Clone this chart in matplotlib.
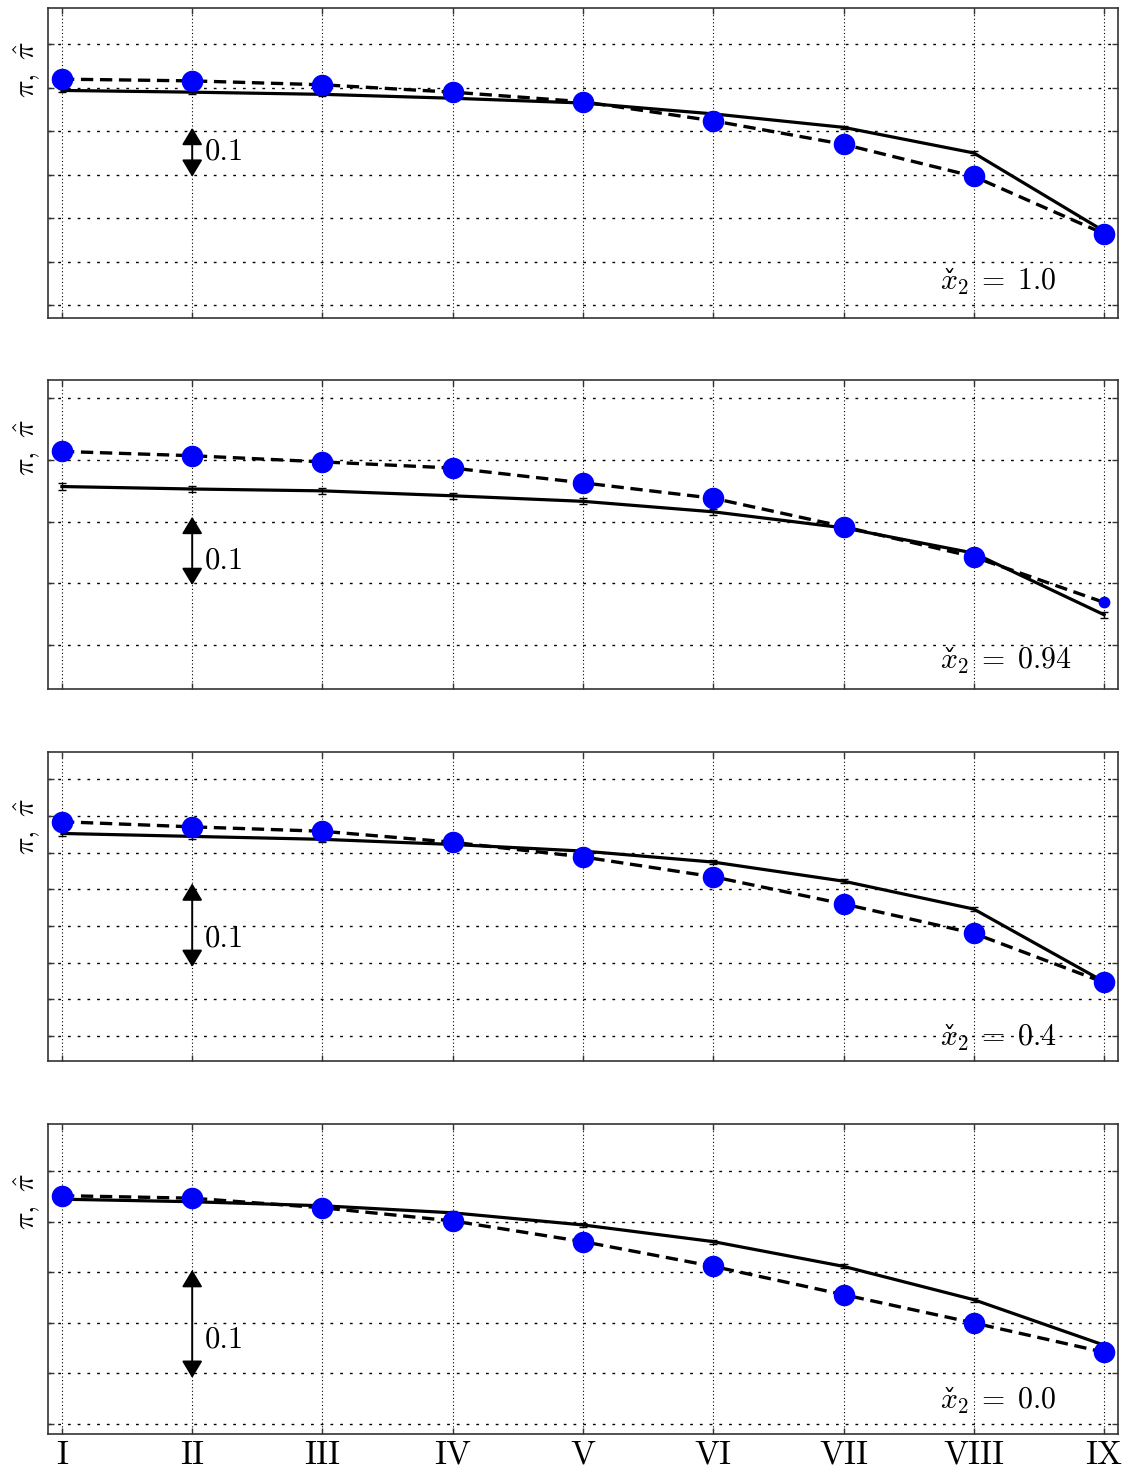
import matplotlib
matplotlib.use("Agg")
import matplotlib.pyplot as plt
import numpy as np

plt.rcParams['font.family'] = 'serif'
plt.rcParams['font.serif'] = ['cmr10', 'DejaVu Serif']
plt.rcParams['mathtext.fontset'] = 'cm'
plt.rcParams['axes.unicode_minus'] = False
plt.rcParams['axes.formatter.use_mathtext'] = True

# categories on the x axis
categories = ['I', 'II', 'III', 'IV', 'V', 'VI', 'VII', 'VIII', 'IX']
x2_labels = ['1.0', '0.94', '0.4', '0.0']

# pi (solid, with error bars) and pi-hat (dashed, blue dots), one pair per panel
pi_1 = [0.694, 0.690, 0.685, 0.676, 0.665, 0.640, 0.609, 0.550, 0.370]
pihat_1 = [0.720, 0.716, 0.707, 0.690, 0.668, 0.624, 0.570, 0.496, 0.364]

pi_2 = [0.457, 0.453, 0.450, 0.442, 0.433, 0.416, 0.390, 0.349, 0.249]
pihat_2 = [0.514, 0.507, 0.497, 0.487, 0.463, 0.438, 0.392, 0.343, 0.269]

pi_3 = [0.476, 0.472, 0.468, 0.461, 0.452, 0.437, 0.411, 0.373, 0.274]
pihat_3 = [0.492, 0.485, 0.479, 0.464, 0.444, 0.417, 0.380, 0.340, 0.273]

pi_4 = [0.4225, 0.420, 0.416, 0.409, 0.397, 0.3805, 0.356, 0.323, 0.278]
pihat_4 = [0.426, 0.4235, 0.414, 0.401, 0.3805, 0.356, 0.328, 0.300, 0.271]

err_1 = [0.004] * 9
err_2 = [0.005] * 9
err_3 = [0.003] * 9
err_4 = [0.002] * 9

pi_all = [pi_1, pi_2, pi_3, pi_4]
pihat_all = [pihat_1, pihat_2, pihat_3, pihat_4]
err_all = [err_1, err_2, err_3, err_4]

# marker sizes (the last point of panel 2 is drawn smaller)
msize_all = [[14.5] * 9, [14.5] * 8 + [7.5], [14.5] * 9, [14.5] * 9]

# per-panel axis settings: ylim, ytick step
ylims = [(0.170, 0.884), (0.1286, 0.630), (0.1659, 0.5869), (0.190, 0.497)]
ysteps = [0.1, 0.1, 0.05, 0.05]
arrow_span = [(0.495, 0.608), (0.297, 0.408), (0.294, 0.408), (0.2455, 0.3525)]
scale_text_y = [0.5525, 0.336, 0.332, 0.283]
x2_text_y = [0.092, 0.066, 0.050, 0.082]   # baseline, axes fraction
ylabel_y = [0.80, 0.78, 0.76, 0.75]

# axes rectangles [left, bottom, width, height] in figure fraction
rects = [
    [0.0424, 0.7834, 0.9452, 0.2112],
    [0.0424, 0.5307, 0.9452, 0.2105],
    [0.0424, 0.2772, 0.9452, 0.2105],
    [0.0424, 0.02316, 0.9452, 0.2112],
]

fig = plt.figure(figsize=(11.32, 14.68), dpi=100)
x = np.arange(len(categories))

for k in range(4):
    ax = fig.add_axes(rects[k])

    ax.errorbar(x, pi_all[k], yerr=err_all[k], color='k', lw=2.3,
                capsize=3, elinewidth=1.0, capthick=1.0, zorder=3)
    ax.plot(x, pihat_all[k], color='k', lw=2.4, linestyle=(0, (3.7, 2.0)), zorder=3)
    for xi, yi, ms in zip(x, pihat_all[k], msize_all[k]):
        ax.plot(xi, yi, 'o', color='#0000ff', markeredgecolor='#0000ff',
                markersize=ms, zorder=4)

    ax.set_xlim(-0.107, 8.107)
    ax.set_ylim(*ylims[k])
    lo, hi = ylims[k]
    step = ysteps[k]
    ticks = np.arange(np.ceil(lo / step - 1e-6) * step, hi, step)
    ax.set_yticks(ticks)
    ax.set_yticklabels([])
    ax.set_xticks(x)
    if k == 3:
        ax.set_xticklabels(categories, fontsize=24)
    else:
        ax.set_xticklabels([])

    ax.tick_params(direction='in', length=4, width=1, top=True, right=True,
                   colors='#333333', pad=5)
    ax.tick_params(axis='x', labelcolor='k')

    ax.grid(False)
    for t in ticks:
        ax.axhline(t, color='k', lw=1.0, linestyle=(0, (2.0, 5.0)), zorder=1)
    for xi in x:
        ax.axvline(xi, color='k', lw=0.8, linestyle=(0, (1.0, 2.2)), zorder=1)

    for sp in ax.spines.values():
        sp.set_color('#333333')
        sp.set_linewidth(1.2)

    # 0.1 scale arrow
    a_lo, a_hi = arrow_span[k]
    ax.annotate('', xy=(1, a_hi), xytext=(1, a_lo),
                arrowprops=dict(arrowstyle='<|-|>,head_length=0.5,head_width=0.3',
                                color='k', lw=1.4, shrinkA=0, shrinkB=0,
                                mutation_scale=21), zorder=5)
    ax.text(1.1, scale_text_y[k], '0.1', fontsize=22, ha='left', va='center')

    # x-check label: x_2 = value, with the caron drawn on top of the x
    ax.text(0.834, x2_text_y[k], r'$x_2\;=\;' + x2_labels[k] + '$',
            transform=ax.transAxes, fontsize=21.5, ha='left', va='baseline')
    ax.annotate('\u02c7', xy=(0.834, x2_text_y[k]), xycoords='axes fraction',
                xytext=(6.0, 0.5), textcoords='offset points',
                fontsize=19, family='DejaVu Serif', ha='center', va='baseline')

    ax.set_ylabel(r'$\pi,\ \hat{\pi}$', fontsize=21)
    ax.yaxis.set_label_coords(-0.006, ylabel_y[k])

fig.savefig('out.png', dpi=100)
